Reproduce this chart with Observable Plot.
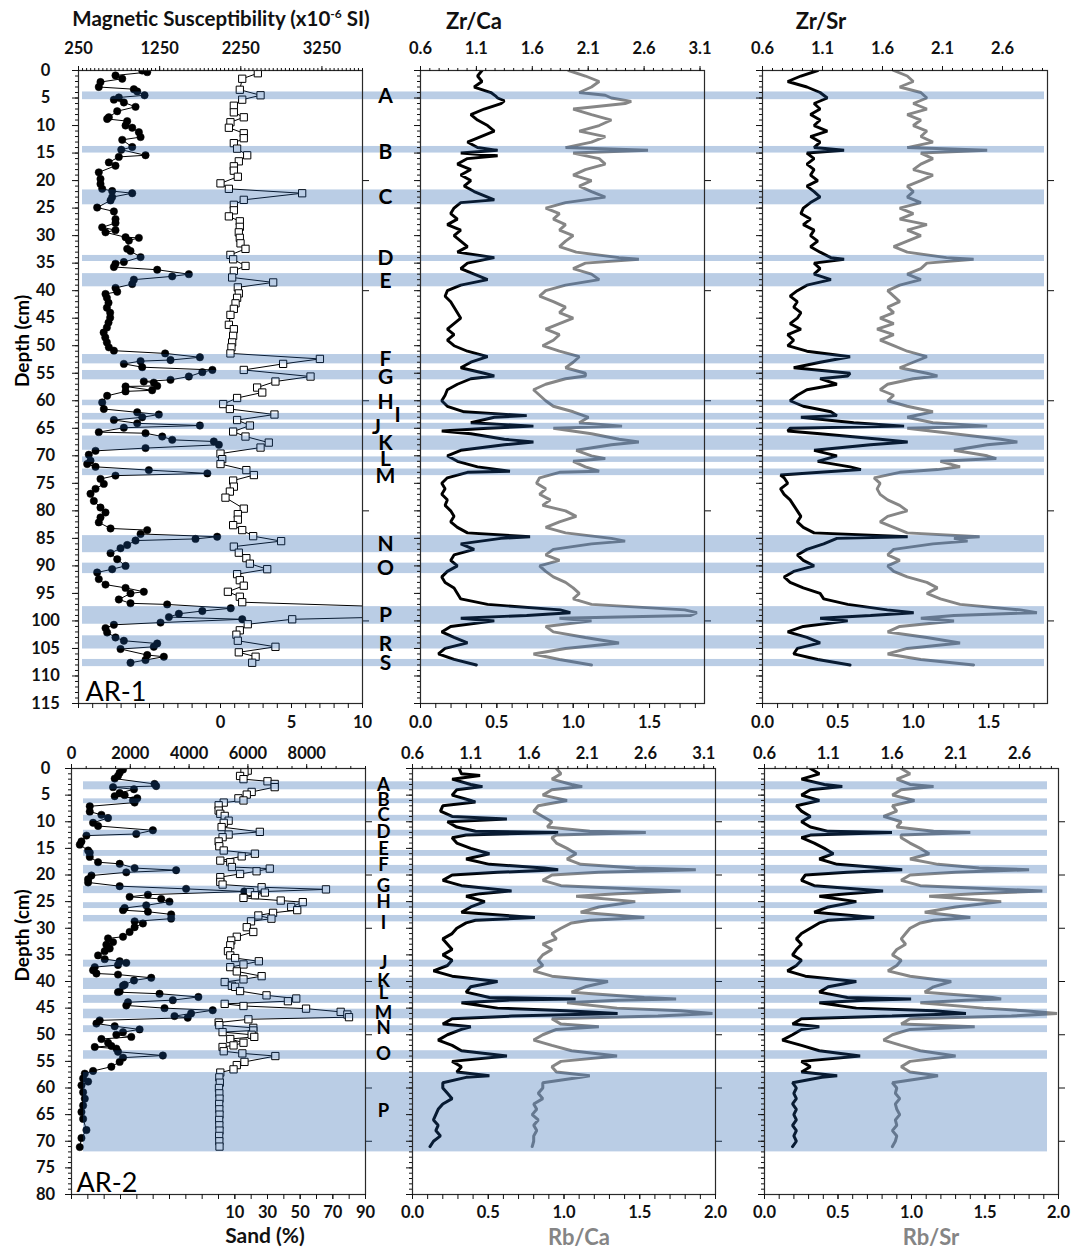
<!DOCTYPE html>
<html>
<head>
<meta charset="utf-8">
<script src="https://cdn.jsdelivr.net/npm/d3@7"></script>
<script src="https://cdn.jsdelivr.net/npm/@observablehq/plot@0.6"></script>
<style>
  body { margin: 0; background: #fff; }
  #page { position: relative; width: 1079px; height: 1248px; overflow: hidden; font-family: Lato, "Open Sans", sans-serif; }
  #page svg { position: absolute; }
  .lbl { position: absolute; font-weight: bold; white-space: nowrap; transform: translate(-50%, -50%); color: #111; }
  .grey { color: #858585; }
</style>
</head>
<body>
<div id="page"></div>
<script>
// ---------------- DATA ----------------
// AR-1 magnetic susceptibility [depth cm, x10^-6 SI]
const ar1MS = [[0,1035],[0.3,1097],[0.9,706],[1.5,789],[2.1,521],[3.0,500],[3.4,932],[3.8,974],[4.5,1064],[4.9,747],[5.3,686],[5.8,809],[6.6,953],[7.4,727],[8.5,624],[8.8,603],[9.2,850],[10.0,830],[10.4,912],[11.2,994],[12.1,1015],[12.6,789],[13.9,912],[14.4,777],[15.4,1076],[15.7,747],[16.7,624],[17.3,706],[18.5,500],[19.7,521],[20.6,521],[21.5,542],[21.9,665],[22.3,912],[23.0,665],[23.6,645],[24.9,480],[25.6,686],[27.0,706],[27.7,706],[28.5,542],[29.0,706],[29.4,583],[30.3,830],[30.4,994],[30.9,871],[32.4,850],[32.8,891],[33.9,1015],[34.8,809],[35.1,706],[35.7,686],[36.2,1220],[37.0,1610],[37.4,1405],[38.0,932],[38.8,912],[39.5,706],[40.2,727],[40.6,583],[41.3,600],[42.2,620],[43.1,600],[44.0,640],[44.9,640],[45.8,620],[46.7,600],[47.6,560],[48.5,580],[49.4,600],[50.3,624],[50.9,686],[51.4,1318],[52.1,1746],[52.6,1384],[52.8,1015],[53.3,809],[53.9,1035],[54.4,1900],[54.8,1776],[55.6,1610],[56.2,1384],[56.5,1055],[56.7,1178],[57.3,1220],[57.4,830],[58.1,1158],[58.3,830],[59.1,603],[60.3,542],[61.5,562],[62.1,974],[62.5,1240],[63.0,1035],[63.5,686],[64.1,974],[64.5,1746],[64.9,809],[65.7,500],[65.9,1076],[66.5,1282],[67.1,1405],[67.4,1918],[68.0,1980],[68.6,1076],[69.1,460],[69.8,377],[70.9,398],[71.5,357],[72.0,460],[72.6,1117],[73.2,1838],[73.6,706],[74.2,521],[75.1,562],[76.0,460],[76.9,398],[78.2,439],[79.4,521],[80.3,583],[81.2,521],[82.1,500],[83.2,645],[83.5,1097],[84.2,1015],[84.7,1959],[85.1,1692],[85.4,953],[86.2,850],[86.8,768],[87.7,645],[88.8,727],[90.0,830],[90.6,665],[91.2,480],[92.4,500],[93.4,583],[94.0,830],[94.7,1055],[95.0,891],[96.1,747],[96.8,891],[97.0,1343],[97.7,2126],[98.2,1776],[98.7,1487],[99.3,1364],[99.7,2268],[100.3,1261],[100.7,686],[101.3,583],[102.1,603],[103.0,706],[103.6,809],[104.1,1220],[104.7,1178],[105.1,768],[106.2,1097],[106.5,1302],[107.1,1076],[107.6,891]];

// AR-1 sand [depth, %]
const ar1Sand = [[0.5,2.63],[1.5,1.53],[3.5,1.36],[4.5,2.82],[5.3,1.53],[6.4,0.94],[7.6,0.94],[8.5,1.64],[9.4,0.70],[10.4,0.59],[11.4,1.64],[12.3,1.64],[13.2,0.94],[14.2,1.17],[15.4,1.88],[16.5,1.29],[17.4,0.94],[18.2,0.94],[19.3,1.22],[20.5,0.0],[21.5,0.59],[22.3,5.75],[23.5,1.64],[24.4,0.94],[25.4,0.94],[26.5,0.59],[27.4,1.36],[28.4,1.36],[29.4,1.29],[30.4,1.36],[31.4,1.41],[32.4,1.76],[33.5,0.70],[34.3,0.89],[35.5,1.76],[36.4,0.94],[37.6,0.82],[38.5,3.71],[39.4,1.22],[40.5,1.29],[41.3,1.17],[42.3,1.06],[43.3,0.94],[44.4,0.70],[46.2,0.59],[47.0,0.94],[48.2,0.89],[49.4,0.82],[50.3,0.77],[51.4,0.70],[52.4,7.0],[53.3,4.41],[54.4,1.64],[55.6,6.34],[56.5,3.87],[57.6,2.58],[58.5,2.94],[59.5,1.17],[60.6,0.19],[61.5,0.66],[62.5,3.8],[63.5,1.17],[64.5,2.07],[65.6,0.89],[66.5,1.76],[67.6,3.40],[68.5,2.82],[69.6,0.0],[70.6,0.12],[71.5,0.0],[72.6,1.82],[73.5,2.35],[74.5,0.89],[75.6,0.94],[76.5,0.66],[77.6,0.35],[79.6,1.64],[80.6,1.22],[81.6,1.22],[82.6,0.89],[83.5,1.53],[84.6,2.30],[85.5,4.27],[86.5,0.94],[87.6,1.29],[88.6,1.82],[89.6,2.07],[90.6,3.29],[91.5,1.17],[92.6,1.36],[93.6,1.64],[94.7,0.52],[95.6,1.36],[96.6,1.53],[98.5,25],[99.7,5.05],[100.6,1.92],[101.7,1.36],[102.5,1.12],[103.6,1.22],[104.7,3.87],[105.7,1.29],[106.5,2.47],[107.6,2.23]];

// AR-1 Zr/Ca (top axis) and Rb/Ca (bottom axis)
const ar1ZrCa = [[0,1.15],[1,1.11],[2,1.15],[3,1.08],[4,1.23],[4.6,1.27],[5,1.29],[5.5,1.35],[6,1.32],[7,1.17],[8,1.05],[9,1.11],[10,1.2],[11,1.26],[12,1.14],[13,1.02],[14,1.11],[14.5,1.29],[15,0.96],[15.5,1.29],[16,1.02],[17,0.93],[18,1.05],[19,0.96],[20,1.05],[21,0.99],[22,1.08],[23,1.2],[23.5,1.26],[24,0.96],[25,0.9],[26,0.87],[27,0.93],[28,0.84],[29,0.96],[30,0.9],[31,0.96],[32,1.02],[33,0.93],[34,1.26],[35,1.02],[36,0.96],[37,1.08],[38,1.2],[39,0.96],[40,0.84],[41,0.82],[42,0.87],[43,0.9],[44,0.93],[45,0.96],[46,0.9],[47,0.84],[48,0.9],[49,0.84],[50,0.9],[51,1.02],[52,1.2],[53,1.05],[54,0.96],[55,1.17],[55.5,1.26],[56,1.05],[57,0.93],[58,0.84],[59,0.82],[60,0.79],[61,0.84],[62,0.99],[62.7,1.55],[63,1.26],[64,1.05],[64.6,1.61],[65,1.2],[65.5,0.79],[66,1.05],[67,1.35],[67.5,1.61],[68,1.35],[69,0.96],[70,0.84],[71,0.93],[72,1.11],[72.8,1.4],[73,1.02],[74,0.84],[75,0.79],[76,0.82],[77,0.79],[78,0.84],[79,0.82],[80,0.87],[81,0.9],[82,0.87],[83,0.93],[84,1.02],[84.7,1.58],[85,1.32],[86,0.96],[87,1.08],[88,0.9],[89,0.87],[90,0.93],[91,0.84],[92,0.79],[93,0.82],[94,0.9],[95,0.93],[96,0.96],[97,1.2],[98,1.85],[98.5,1.94],[99,1.55],[99.5,0.96],[100,1.26],[101,0.87],[102,0.79],[103,0.9],[104,1.02],[105,0.82],[106,0.76],[107,0.9],[108,1.1]];
const ar1RbCa = [[0,0.97],[1,1.08],[2,1.17],[3,1.12],[4,1.04],[4.5,1.21],[5,1.25],[5.6,1.38],[6,1.34],[7,1.0],[8,1.12],[9,1.25],[10,1.17],[11,1.04],[12,1.21],[13,1.12],[14,0.95],[14.5,1.49],[15,1.0],[16,1.17],[17,1.21],[18,1.08],[19,1.0],[20,1.12],[21,1.04],[22,1.12],[23,1.21],[24,0.95],[25,0.82],[26,0.91],[27,0.87],[28,0.95],[29,0.91],[30,1.0],[31,0.95],[32,0.91],[33,1.02],[34,1.3],[34.3,1.43],[35,1.08],[36,1.0],[37,1.12],[38,1.17],[39,0.95],[40,0.82],[41,0.78],[42,0.87],[43,0.95],[44,0.91],[45,1.0],[46,0.91],[47,0.82],[48,0.91],[49,0.87],[50,0.8],[51,0.91],[52,1.04],[53,1.0],[54,0.95],[55,1.08],[55.5,1.08],[56,0.95],[57,0.82],[58,0.74],[59,0.78],[60,0.82],[61,0.87],[62,1.0],[63,1.1],[64,1.04],[64.6,1.32],[65,0.87],[66,1.12],[67,1.3],[67.5,1.43],[68,1.25],[69,1.02],[70,1.12],[70.5,1.21],[71,1.0],[72,1.08],[72.8,1.17],[73,0.91],[74,0.78],[75,0.76],[76,0.82],[77,0.78],[78,0.85],[79,0.8],[80,0.95],[81,1.02],[82,0.91],[83,0.82],[84,0.95],[85,1.25],[85.5,1.34],[86,1.12],[87,0.87],[88,0.82],[89,0.91],[90,0.78],[91,0.82],[92,0.87],[93,0.95],[94,1.0],[95,1.04],[96,1.0],[97,1.12],[98,1.73],[98.5,1.81],[99,1.77],[99.5,0.91],[100,1.12],[101,0.82],[102,0.87],[103,1.08],[104,1.3],[105,0.95],[106,0.74],[107,0.91],[108,1.12]];

// AR-1 Zr/Sr (top axis) and Rb/Sr (bottom axis)
const ar1ZrSr = [[0,1.06],[1,0.92],[2,0.81],[3,0.97],[4,1.08],[5,1.14],[6,1.03],[7,1.08],[8,1.0],[9,1.08],[10,1.03],[11,1.14],[12,1.0],[13,1.08],[14,1.03],[14.5,1.28],[15,0.97],[16,1.03],[17,0.97],[18,1.03],[19,1.0],[20,1.06],[21,0.97],[22,1.03],[23,1.08],[24,1.0],[25,0.94],[26,0.92],[27,1.0],[28,0.94],[29,1.03],[30,1.0],[31,1.06],[32,1.0],[33,1.08],[34,1.17],[34.3,1.28],[35,1.03],[36,1.08],[37,1.03],[38,1.17],[39,0.97],[40,0.89],[41,0.83],[42,0.89],[43,0.86],[44,0.92],[45,0.89],[46,0.83],[47,0.92],[48,0.81],[49,0.86],[50,0.81],[51,0.97],[52,1.33],[53,1.08],[54,0.86],[55,1.33],[55.5,1.31],[56,1.08],[57,1.22],[58,0.97],[59,0.89],[60,0.83],[61,0.94],[62,1.17],[62.7,1.22],[63,0.92],[64,1.36],[64.6,1.78],[65,0.83],[65.5,0.81],[66,1.08],[67,1.58],[67.5,1.81],[68,1.5],[69,1.03],[70,1.22],[71,1.06],[72,1.33],[72.5,1.42],[73,1.08],[73.5,0.75],[74,0.78],[75,0.81],[76,0.75],[77,0.78],[78,0.83],[79,0.86],[80,0.89],[81,0.92],[82,0.89],[83,0.94],[84,1.03],[84.7,1.81],[85,1.22],[86,1.11],[87,0.97],[88,0.89],[89,0.94],[90,1.03],[91,0.86],[92,0.78],[93,0.83],[94,0.94],[95,1.08],[96,1.11],[97,1.31],[98,1.64],[98.5,1.86],[99,1.5],[99.5,1.08],[100,1.31],[101,0.94],[102,0.81],[103,0.97],[104,1.08],[105,0.89],[106,0.86],[107,1.06],[108,1.33]];
const ar1RbSr = [[0,0.87],[1,0.96],[2,1.0],[3,0.91],[4,1.05],[5,1.09],[6,1.0],[7,1.09],[8,0.96],[9,1.05],[10,1.0],[11,1.09],[12,1.05],[13,1.13],[14,0.96],[14.5,1.49],[15,1.05],[16,1.13],[17,1.05],[18,1.0],[19,1.13],[20,1.05],[21,0.96],[22,1.0],[23,0.96],[24,1.05],[25,0.91],[26,1.0],[27,0.91],[28,1.09],[29,0.96],[30,1.05],[31,0.96],[32,0.87],[33,0.96],[34,1.22],[34.3,1.4],[35,1.09],[36,1.05],[37,0.96],[38,1.05],[39,0.91],[40,0.83],[41,0.87],[42,0.91],[43,0.83],[44,0.87],[45,0.78],[46,0.87],[47,0.76],[48,0.87],[49,0.78],[50,0.87],[51,0.96],[52,1.09],[53,1.0],[54,0.91],[55,1.09],[55.5,1.16],[56,1.0],[57,0.83],[58,0.78],[59,0.87],[60,0.83],[61,0.96],[62,1.13],[63,0.96],[64,1.13],[64.6,1.49],[65,0.96],[66,1.27],[67,1.58],[67.5,1.69],[68,1.49],[69,1.27],[70,1.49],[70.5,1.55],[71,1.18],[72,1.31],[72.5,1.16],[73,0.91],[74,0.74],[75,0.78],[76,0.76],[77,0.78],[78,0.83],[79,0.91],[80,0.96],[81,0.83],[82,0.78],[83,0.87],[84,0.96],[84.7,1.44],[85,1.27],[85.5,1.36],[86,1.13],[87,0.87],[88,0.83],[89,0.91],[90,0.83],[91,0.87],[92,0.96],[93,1.09],[94,1.16],[95,1.09],[96,1.18],[97,1.31],[98,1.71],[98.5,1.82],[99,1.27],[99.5,1.05],[100,1.27],[101,0.91],[102,0.83],[103,1.09],[104,1.31],[105,0.96],[106,0.83],[107,1.05],[108,1.4]];

// AR-2 magnetic susceptibility and sand
const ar2MS = [[0.2,1752],[0.8,1638],[1.4,1582],[1.9,1469],[2.9,2824],[3.3,2880],[3.5,1413],[3.9,2125],[4.6,1638],[5.0,1808],[5.2,1469],[5.6,2237],[6.0,2091],[6.4,2147],[7.1,621],[8.1,621],[8.7,1017],[9.3,1243],[10.2,734],[10.8,904],[11.6,2768],[12.3,2203],[12.6,508],[13.7,339],[14.3,282],[15.4,565],[15.8,621],[16.6,621],[17.6,904],[17.9,1638],[18.7,2147],[19.1,3559],[19.5,1864],[20.1,678],[20.8,565],[21.4,565],[22.1,1638],[22.6,3898],[23.1,5876],[23.7,2600],[24.1,1977],[24.5,3051],[25.0,3333],[25.7,2542],[26.2,1808],[26.6,1752],[26.9,2600],[27.4,3390],[28.2,3390],[28.7,2147],[29.1,2429],[29.8,2147],[30.7,1977],[31.6,1752],[31.9,1243],[32.6,1413],[33.1,1186],[33.8,1300],[34.3,1130],[35.1,904],[35.8,1130],[36.2,1638],[36.5,1864],[36.9,1582],[37.3,791],[37.9,734],[38.5,848],[38.7,1582],[39.3,2712],[39.8,2125],[40.6,1808],[40.8,1752],[41.9,1638],[42.0,1582],[42.3,2994],[42.9,4316],[43.5,3446],[43.9,1921],[44.5,1864],[45.0,3164],[45.4,4803],[46.0,4068],[46.5,3503],[46.8,3954],[47.3,960],[47.9,848],[48.4,1469],[49.0,2316],[49.5,1752],[50.0,1526],[50.4,2034],[50.8,1017],[51.5,1243],[52.1,1356],[52.3,791],[52.6,1526],[53.2,1582],[53.9,3108],[54.3,1752],[55.1,1638],[56.0,1356],[56.8,734],[57.3,452],[58.2,395],[58.8,565],[59.5,339],[60.8,395],[62.0,452],[63.3,395],[64.5,339],[65.8,395],[67.9,508],[69.4,339],[71.1,282]];
const ar2Sand = [[0.4,17.9],[0.7,15.9],[1.4,13.2],[2.0,15.3],[2.4,30],[2.9,34.4],[3.5,34.4],[4.4,20.3],[4.9,17.3],[5.6,12.2],[6.0,15.3],[6.4,3.2],[6.9,0.1],[7.9,0.1],[8.5,1.1],[8.9,3.8],[9.8,6.2],[10.2,3.2],[11.0,1.9],[11.9,25.3],[12.4,6.2],[12.9,2.5],[13.7,0.1],[14.6,0.5],[15.4,3.2],[16.0,22.3],[16.5,14.2],[17.3,1.1],[17.6,7.2],[18.5,8.2],[18.8,31.4],[19.3,23.3],[19.8,13.2],[20.4,1.1],[21.3,1.1],[21.8,2.5],[22.3,26.4],[22.7,65.8],[23.2,19.3],[23.3,28.4],[23.8,22.3],[24.3,15.3],[24.8,38.1],[25.1,51.6],[26.0,44.5],[26.6,48.2],[27.1,33.4],[27.6,24.4],[28.2,32.4],[28.7,19.9],[29.8,17.3],[30.7,21.3],[31.6,11.2],[32.3,7.8],[33.2,7.2],[34.3,5.8],[35.1,7.2],[35.6,10.2],[36.2,24.7],[36.8,15.3],[37.3,7.2],[38.1,11.2],[39.0,26.4],[39.6,15.3],[40.1,3.8],[40.8,8.2],[41.0,10.2],[41.8,13.2],[42.6,29.4],[43.2,47.6],[43.7,42.5],[44.2,3.8],[44.6,15.3],[45.1,53.6],[45.7,74.8],[46.2,78.9],[46.7,79.9],[47.1,18.3],[47.7,0.1],[48.2,0.5],[48.7,21.3],[49.2,21.3],[49.5,2.5],[50.0,20.3],[50.4,21.9],[50.8,7.2],[51.5,15.3],[52.0,9.2],[52.3,2.5],[53.1,3.2],[53.5,14.6],[54.0,34.8],[55.1,15.9],[55.7,11.2],[56.5,9.2],[57.1,1.1],[58.0,0.5],[59.0,0.8],[60.0,0.3],[61.0,0.5],[62.0,0.6],[63.0,0.4],[64.0,0.5],[65.0,0.6],[66.0,0.4],[67.0,0.5],[68.0,0.6],[69.0,0.4],[70.0,0.5],[71.0,0.6]];

// AR-2 XRF ratios
const ar2ZrCa = [[0,1.0],[1,1.02],[1.3,1.18],[2,0.94],[3,1.1],[3.4,1.2],[4,0.98],[5,0.94],[6,1.1],[6.3,1.14],[7,0.86],[8,0.84],[9,0.94],[9.5,1.41],[10,0.9],[11,0.98],[11.8,1.14],[12,1.85],[12.5,1.06],[13,0.94],[14,0.98],[15,1.1],[16,1.26],[17,1.06],[18,1.26],[18.7,1.73],[19,1.85],[19.5,1.33],[20,0.94],[21,0.86],[22,1.02],[23,1.45],[23.5,1.18],[24,1.06],[25,1.22],[26,1.1],[27,1.02],[28,1.65],[28.5,1.14],[29,1.06],[30,0.98],[31,0.94],[32,0.86],[33,0.9],[34,0.94],[35,0.86],[36,0.94],[37,0.9],[38,0.78],[39,0.94],[40,1.33],[41,1.1],[42,1.06],[43,1.26],[43.3,2.0],[43.5,1.41],[44,1.02],[45,1.33],[45.5,1.92],[46,2.36],[46.5,1.45],[47,0.94],[48,0.86],[48.5,1.1],[49,1.02],[50,0.9],[51,0.82],[52,0.94],[53,1.02],[54,1.41],[55,0.94],[56,1.02],[57,0.98],[57.7,1.26],[58,1.06],[59,0.86],[60,0.86],[61,0.9],[62,0.94],[63,0.86],[64,0.82],[65,0.8],[66,0.78],[67,0.82],[68,0.8],[69,0.84],[70,0.78],[71,0.75]];
const ar2RbCa = [[0,0.95],[1,0.98],[2,0.92],[3,1.05],[3.4,1.12],[4,0.92],[5,0.86],[6,1.02],[7,0.83],[8,0.8],[9,0.86],[10,0.92],[11,0.89],[11.8,1.17],[12,1.54],[12.5,0.95],[13,0.92],[14,0.95],[15,1.02],[16,1.08],[17,1.02],[18,1.11],[18.7,1.47],[19,1.87],[19.5,1.23],[20,0.92],[21,0.86],[22,0.98],[23,1.77],[23.5,1.35],[24,1.08],[25,1.47],[26,1.23],[27,1.11],[28,1.53],[28.5,1.17],[29,1.05],[30,0.98],[31,0.92],[32,0.95],[33,0.86],[34,0.92],[35,0.86],[36,0.83],[37,0.86],[38,0.8],[39,0.92],[40,1.29],[41,1.14],[42,1.05],[43,1.53],[43.3,1.74],[43.5,1.35],[44,1.02],[45,1.35],[45.5,1.77],[46,1.98],[46.5,1.62],[47,0.92],[48,0.98],[48.5,1.23],[49,0.95],[50,0.86],[51,0.8],[52,0.92],[53,1.05],[54,1.35],[55,0.98],[56,0.92],[57,0.95],[57.7,1.17],[58,1.11],[59,0.86],[60,0.86],[61,0.83],[62,0.86],[63,0.8],[64,0.82],[65,0.79],[66,0.83],[67,0.8],[68,0.82],[69,0.8],[70,0.8],[71,0.79]];
const ar2ZrSr = [[0,0.96],[1,1.03],[2,0.89],[3,1.07],[3.4,1.21],[4,0.96],[5,0.89],[6,1.03],[7,0.85],[8,0.89],[9,0.96],[10,0.89],[11,0.96],[11.8,1.1],[12,1.6],[12.5,0.96],[13,0.89],[14,0.99],[15,1.07],[16,1.14],[17,1.03],[18,1.17],[18.7,1.53],[19,1.68],[19.5,1.25],[20,0.92],[21,0.89],[22,0.99],[23,1.53],[23.5,1.25],[24,1.03],[25,1.32],[26,1.1],[27,0.99],[28,1.46],[28.5,1.1],[29,1.03],[30,0.96],[31,0.89],[32,0.85],[33,0.89],[34,0.85],[35,0.82],[36,0.89],[37,0.85],[38,0.78],[39,0.92],[40,1.32],[41,1.1],[42,1.03],[43,1.25],[43.3,1.75],[43.5,1.39],[44,1.03],[45,1.32],[45.5,1.93],[46,2.18],[46.5,1.6],[47,0.89],[48,0.82],[48.5,1.03],[49,0.89],[50,0.82],[51,0.74],[52,0.89],[53,1.03],[54,1.35],[55,0.89],[56,0.96],[57,0.89],[57.7,1.17],[58,1.05],[59,0.82],[60,0.85],[61,0.83],[62,0.85],[63,0.82],[64,0.85],[65,0.83],[66,0.85],[67,0.82],[68,0.85],[69,0.83],[70,0.85],[71,0.82]];
const ar2RbSr = [[0,0.93],[1,0.99],[2,0.9],[3,0.99],[3.4,1.15],[4,0.93],[5,0.87],[6,1.02],[7,0.87],[8,0.9],[9,0.81],[10,0.93],[11,0.9],[11.8,1.15],[12,1.4],[12.5,0.93],[13,0.93],[14,0.99],[15,1.06],[16,1.12],[17,0.99],[18,1.18],[18.7,1.46],[19,1.8],[19.5,1.3],[20,0.99],[21,0.93],[22,1.06],[23,1.89],[23.5,1.43],[24,1.12],[25,1.61],[26,1.3],[27,1.09],[28,1.4],[28.5,1.15],[29,1.06],[30,0.99],[31,0.96],[32,0.93],[33,0.96],[34,0.9],[35,0.87],[36,0.93],[37,0.9],[38,0.84],[39,0.99],[40,1.27],[41,1.15],[42,1.09],[43,1.55],[43.3,1.61],[43.5,1.37],[44,1.06],[45,1.49],[45.5,1.77],[46,1.99],[46.5,1.68],[47,0.99],[48,0.93],[48.5,1.43],[49,0.99],[50,0.87],[51,0.81],[52,0.93],[53,1.06],[54,1.3],[55,0.99],[56,0.93],[57,0.99],[57.7,1.18],[58,1.12],[59,0.87],[60,0.9],[61,0.89],[62,0.92],[63,0.89],[64,0.9],[65,0.92],[66,0.89],[67,0.9],[68,0.87],[69,0.9],[70,0.89],[71,0.87]];

// Event layers (depth ranges) and their labels
const ar1Bands = [[3.9,5.3],[13.8,15.0],[21.7,24.4],[33.6,34.7],[36.9,39.3],[51.6,53.3],[54.5,56.2],[59.9,60.9],[62.3,63.5],[64.1,65.2],[66.4,69.0],[70.2,71.2],[72.4,73.6],[84.5,87.6],[89.5,91.4],[97.4,100.6],[102.7,105.1],[107.0,108.3]];
const ar2Bands = [[2.5,4.0],[5.7,6.6],[8.8,9.9],[11.6,12.7],[15.4,16.5],[18.2,19.8],[22.1,23.5],[25.2,26.3],[27.6,28.8],[36.0,37.3],[39.4,41.5],[42.6,44.1],[45.2,47.0],[48.3,49.6],[53.0,54.6],[57.1,72.0]];
const ar1Letters = [["A",4.7],["B",14.9],["C",23.1],["D",34.1],["E",38.2],["F",52.4],["G",55.8],["H",60.3],["I",62.6],["J",64.9],["K",67.7],["L",70.7],["M",73.8],["N",86],["O",90.4],["P",98.9],["R",104.2],["S",107.6]];
const ar2Letters = [["A",3.2],["B",6.0],["C",8.8],["D",11.9],["E",15.2],["F",18.2],["G",22.1],["H",25.1],["I",29.1],["J",36.6],["K",40.0],["L",42.1],["M",46.0],["N",48.8],["O",53.7],["P",64.4]];

// tick label values
const ar1MSTicks = [250, 1250, 2250, 3250];
const ar1SandTicks = [0, 5, 10];
const ar2MSTicks = [0, 2000, 4000, 6000, 8000];
const ar2SandTicks = [10, 30, 50, 70, 90];
const zrCaTicks = [0.6, 1.1, 1.6, 2.1, 2.6, 3.1];
const zrSrTicks = [0.6, 1.1, 1.6, 2.1, 2.6];
const rb1Ticks = [0, 0.5, 1.0, 1.5];
const rb2Ticks = [0, 0.5, 1.0, 1.5, 2.0];

// ---------------- DRAWING ----------------
const page = document.getElementById("page");
const BAND = "#1a58a8";
const BLACK = "#000000", GREY = "#868686";
const fmt1 = d => (Math.round(d * 10) / 10).toFixed(1);
const fmtInt = d => String(Math.round(d));

function panel(p) {
  const mL = 80, mR = 30, mT = 62, mB = 45;
  const fw = p.right - p.left, fh = p.bottom - p.top;
  const [t0, t1] = p.topDomain, [b0, b1] = p.botDomain;
  const toTop = b => t0 + (b - b0) * (t1 - t0) / (b1 - b0);
  const toBot = t => b0 + (t - t0) * (b1 - b0) / (t1 - t0);
  const fs = {fontSize: 16.5, fontWeight: "bold"};
  const Y = d => d[0];
  const marks = [];
  for (const s of p.series) {
    const X = s.axis === "top" ? (d => d[1]) : (d => toTop(d[1]));
    if (s.kind === "line") {
      marks.push(Plot.line(s.data, {x: X, y: Y, stroke: s.color, strokeWidth: s.width, strokeLinejoin: "miter", clip: true}));
    } else if (s.kind === "circle") {
      marks.push(Plot.line(s.data, {x: X, y: Y, stroke: "#000", strokeWidth: 1, clip: true}));
      marks.push(Plot.dot(s.data, {x: X, y: Y, r: 3.7, fill: "#000", stroke: "#000", strokeWidth: 0.5, clip: true}));
    } else if (s.kind === "square") {
      marks.push(Plot.line(s.data, {x: X, y: Y, stroke: "#000", strokeWidth: 1, clip: true}));
      marks.push(Plot.dot(s.data, {x: X, y: Y, symbol: "square", r: 4.1, fill: "#fff", stroke: "#000", strokeWidth: 1, clip: true}));
    }
  }
  marks.push(Plot.rect(p.bands, {y1: d => d[0], y2: d => d[1], fill: BAND, fillOpacity: 0.3, insetLeft: p.bandInset[0], insetRight: p.bandInset[1]}));
  marks.push(Plot.frame({stroke: "#2a2a2a", strokeWidth: 1.2}));
  // top axis
  marks.push(Plot.axisX(p.topMinor, {anchor: "top", tickSize: 3, tickFormat: () => "", label: null}));
  marks.push(Plot.axisX(p.topMajor, {anchor: "top", tickSize: 5, tickPadding: p.topPad, tickFormat: p.topFmt, label: null, ...fs}));
  // bottom axis (secondary units)
  marks.push(Plot.axisX(p.botMinor.map(toTop), {anchor: "bottom", tickSize: 5, tickFormat: () => "", label: null}));
  marks.push(Plot.axisX(p.botMajor.map(toTop), {anchor: "bottom", tickSize: 5, tickPadding: p.botPad, tickFormat: d => p.botFmt(toBot(d)), label: null, ...fs}));
  // depth axes
  marks.push(Plot.axisY(d3.range(0, p.depthMax + 0.5, 1), {anchor: "left", tickSize: 3, tickFormat: () => "", label: null}));
  marks.push(Plot.axisY(d3.range(0, p.depthMax + 0.5, 5), {anchor: "left", tickSize: 6, tickPadding: p.leftPad, textAnchor: "middle", tickFormat: p.depthLabels ? (d => String(d)) : (() => ""), label: null, fontSize: 16.5, fontWeight: "bold"}));
  marks.push(Plot.axisY(d3.range(p.rightStep, p.depthMax, p.rightStep), {anchor: "right", tickSize: 6, tickFormat: () => "", label: null}));
  if (p.letters) {
    const shifts = p.letterShift || {};
    const groups = d3.group(p.letters, d => shifts[d[0]] || 0);
    for (const [sh, arr] of groups) {
      marks.push(Plot.text(arr, {y: d => d[1], text: d => d[0], frameAnchor: "left", dx: p.letterDx + sh, textAnchor: "middle", fontSize: p.letterSize, fontWeight: "bold", fill: "#000"}));
    }
  }
  if (p.name) {
    marks.push(Plot.text([p.name], {text: d => d, frameAnchor: "bottom-left", textAnchor: "start", lineAnchor: "bottom", dx: p.nameDx, dy: -3, fontSize: 27, fontWeight: "normal", fill: "#000"}));
    marks.push(Plot.text(["Depth (cm)"], {text: d => d, frameAnchor: "left", rotate: -90, dx: p.depthLabelDx, fontSize: 19, fontWeight: "bold", fill: "#000"}));
  }
  const svg = Plot.plot({
    width: fw + mL + mR, height: fh + mT + mB,
    marginLeft: mL, marginRight: mR, marginTop: mT, marginBottom: mB,
    x: {domain: p.topDomain},
    y: {domain: [0, p.depthMax], reverse: true},
    style: {background: "transparent", overflow: "visible", fontFamily: "Lato, 'Open Sans', sans-serif", color: "#111"},
    marks
  });
  svg.style.position = "absolute";
  svg.style.left = (p.left - mL) + "px";
  svg.style.top = (p.top - mT) + "px";
  svg.style.maxWidth = "none";
  page.appendChild(svg);
}

const r1 = {top: 70, bottom: 703, depthMax: 115, rightStep: 20, bands: ar1Bands, topPad: 12, botPad: 8};
const r2 = {top: 768, bottom: 1194, depthMax: 80, rightStep: 10, bands: ar2Bands, topPad: 5, botPad: 7};

// Row 1
panel({...r1, left: 78, right: 362, topDomain: [250, 3750], botDomain: [-10, 10],
  series: [{kind: "circle", axis: "top", data: ar1MS}, {kind: "square", axis: "bottom", data: ar1Sand}],
  bandInset: [4, 0], topMinor: d3.range(250, 3751, 50), topMajor: ar1MSTicks, topFmt: fmtInt,
  botMinor: d3.range(-10, 10.01, 1), botMajor: ar1SandTicks, botFmt: fmtInt,
  depthLabels: true, leftPad: 27, name: "AR-1", nameDx: 7, depthLabelDx: -56});
panel({...r1, left: 420, right: 704, topDomain: [0.6, 3.14], botDomain: [0, 1.86],
  series: [{kind: "line", axis: "top", data: ar1ZrCa, color: BLACK, width: 2.9}, {kind: "line", axis: "bottom", data: ar1RbCa, color: GREY, width: 2.9}],
  bandInset: [-57, 0], topMinor: d3.range(0.6, 3.14, 1 / 12), topMajor: zrCaTicks, topFmt: fmt1,
  botMinor: d3.range(0, 1.86, 0.1), botMajor: rb1Ticks, botFmt: fmt1,
  depthLabels: false, leftPad: 3, letters: ar1Letters, letterDx: -35, letterShift: {I: 12, J: -9}, letterSize: 21});
panel({...r1, left: 762, right: 1047, topDomain: [0.6, 2.975], botDomain: [0, 1.89],
  series: [{kind: "line", axis: "top", data: ar1ZrSr, color: BLACK, width: 2.9}, {kind: "line", axis: "bottom", data: ar1RbSr, color: GREY, width: 2.9}],
  bandInset: [-57, 3], topMinor: d3.range(0.6, 2.975, 1 / 12), topMajor: zrSrTicks, topFmt: fmt1,
  botMinor: d3.range(0, 1.89, 0.1), botMajor: rb1Ticks, botFmt: fmt1,
  depthLabels: false, leftPad: 3});

// Row 2
panel({...r2, left: 71, right: 365, topDomain: [0, 10000], botDomain: [-90, 90],
  series: [{kind: "circle", axis: "top", data: ar2MS}, {kind: "square", axis: "bottom", data: ar2Sand}],
  bandInset: [12, 0], topMinor: d3.range(0, 10001, 500), topMajor: ar2MSTicks, topFmt: fmtInt,
  botMinor: d3.range(-90, 90.01, 10), botMajor: ar2SandTicks, botFmt: fmtInt,
  depthLabels: true, leftPad: 20, name: "AR-2", nameDx: 5, depthLabelDx: -49});
panel({...r2, left: 412, right: 715, topDomain: [0.6, 3.2], botDomain: [0, 2.0],
  series: [{kind: "line", axis: "top", data: ar2ZrCa, color: BLACK, width: 3}, {kind: "line", axis: "bottom", data: ar2RbCa, color: GREY, width: 3}],
  bandInset: [-46, 0], topMinor: d3.range(0.6, 3.2, 1 / 12), topMajor: zrCaTicks, topFmt: fmt1,
  botMinor: d3.range(0, 2.01, 0.1), botMajor: rb2Ticks, botFmt: fmt1,
  depthLabels: false, leftPad: 3, letters: ar2Letters, letterDx: -29, letterSize: 18.5});
panel({...r2, left: 764, right: 1058, topDomain: [0.6, 2.906], botDomain: [0, 2.0],
  series: [{kind: "line", axis: "top", data: ar2ZrSr, color: BLACK, width: 3}, {kind: "line", axis: "bottom", data: ar2RbSr, color: GREY, width: 3}],
  bandInset: [-48, 11], topMinor: d3.range(0.6, 2.906, 1 / 12), topMajor: zrSrTicks, topFmt: fmt1,
  botMinor: d3.range(0, 2.01, 0.1), botMajor: rb2Ticks, botFmt: fmt1,
  depthLabels: false, leftPad: 3});

// Titles and axis names
function label(html, x, y, size, cls) {
  const d = document.createElement("div");
  d.className = "lbl" + (cls ? " " + cls : "");
  d.style.left = x + "px"; d.style.top = y + "px"; d.style.fontSize = size + "px";
  d.innerHTML = html;
  page.appendChild(d);
}
label("Magnetic Susceptibility (x10<sup style='font-size:12px;vertical-align:8px'>-6</sup> SI)", 221, 18, 20.5);
label("Zr/Ca", 474, 20, 22);
label("Zr/Sr", 821, 20, 22);
label("Sand (%)", 265, 1234, 21);
label("Rb/Ca", 579, 1236, 22, "grey");
label("Rb/Sr", 931, 1236, 22, "grey");
</script>
</body>
</html>
